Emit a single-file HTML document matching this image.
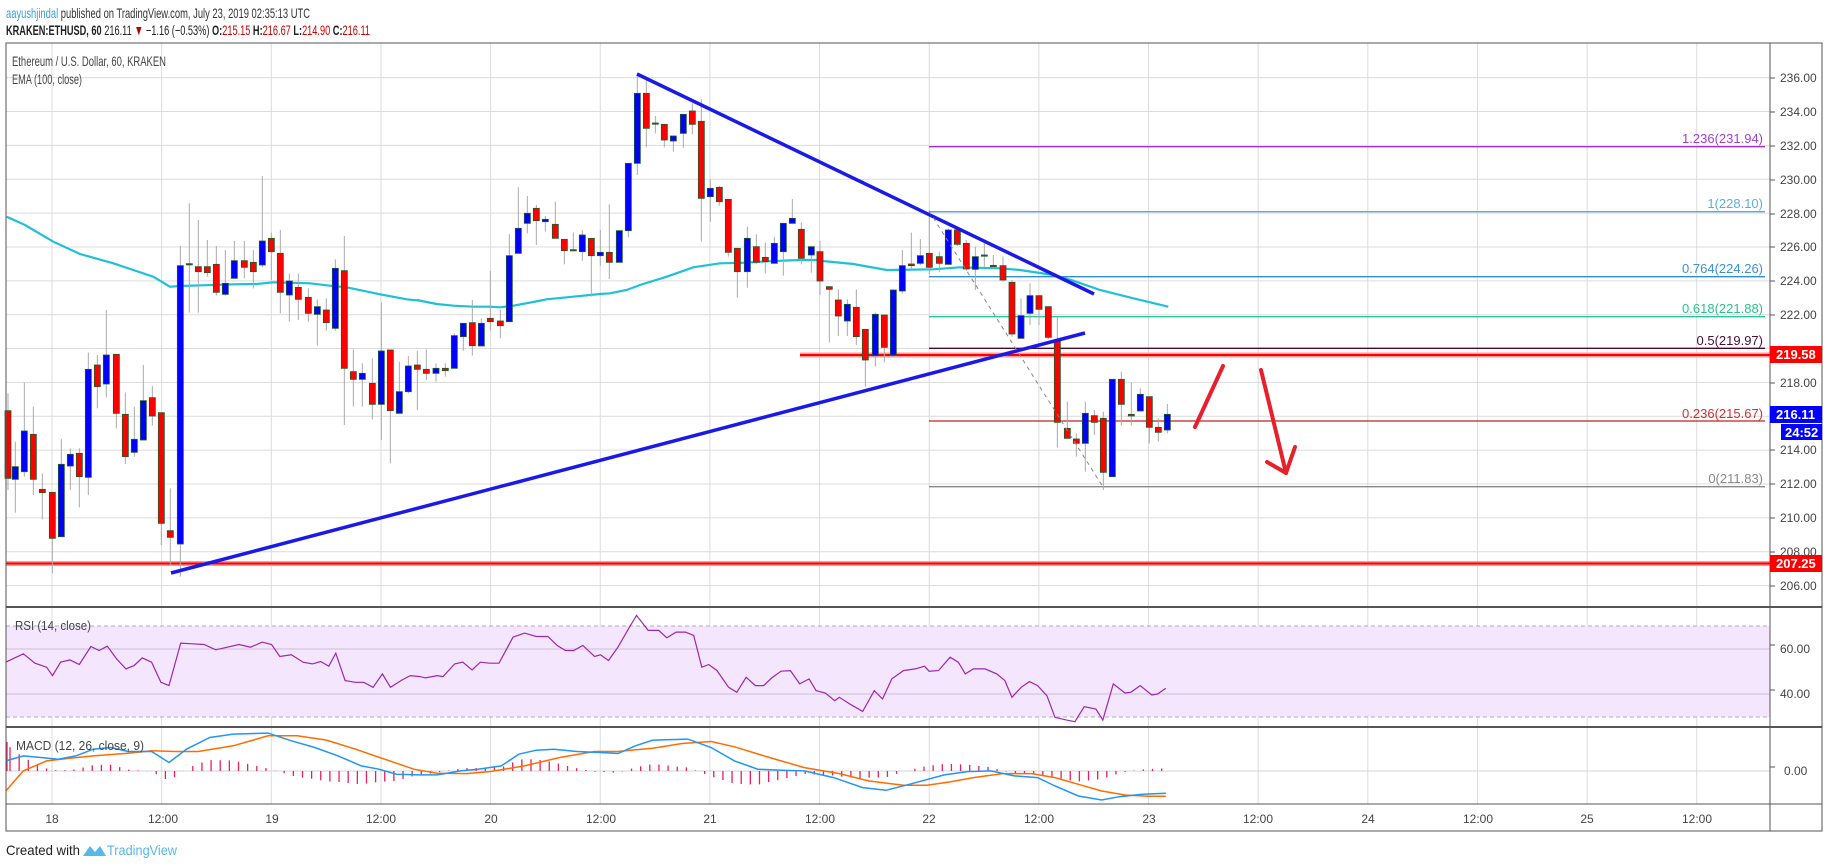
<!DOCTYPE html>
<html><head><meta charset="utf-8">
<style>
html,body{margin:0;padding:0;background:#fff;width:1828px;height:868px;overflow:hidden}
svg{display:block}
text{font-family:"Liberation Sans",sans-serif}
</style></head><body>
<svg id="s" width="1828" height="868" viewBox="0 0 1828 868" xmlns="http://www.w3.org/2000/svg">
<rect width="1828" height="868" fill="#fff"/>
<g id="grid"></g>
<rect x="6" y="626" width="1764" height="91" fill="#f3e6fd"/>
<line x1="6" y1="626" x2="1770" y2="626" stroke="#b9a6c4" stroke-dasharray="4,3"/>
<line x1="6" y1="717" x2="1770" y2="717" stroke="#b9a6c4" stroke-dasharray="4,3"/>
<line x1="6" y1="649" x2="1770" y2="649" stroke="#cbbdd6"/>
<line x1="6" y1="694" x2="1770" y2="694" stroke="#cbbdd6"/>
<line x1="6" y1="771" x2="1770" y2="771" stroke="#d4d4d4"/>
<g id="fib"></g>
<g id="plot"></g>
<!-- frame -->
<g stroke="#555" fill="none">
<rect x="6" y="43" width="1816" height="788"/>
<line x1="1770" y1="43" x2="1770" y2="831"/>
<line x1="6" y1="607" x2="1822" y2="607" stroke-width="2"/>
<line x1="6" y1="727" x2="1822" y2="727" stroke-width="2"/>
<line x1="6" y1="804" x2="1822" y2="804"/>
</g>
<g id="ticks"></g>
<!-- header -->
<text x="6" y="18" font-size="14" textLength="304" lengthAdjust="spacingAndGlyphs" fill="#333"><tspan fill="#3aa0d8">aayushjindal</tspan> published on TradingView.com, July 23, 2019 02:35:13 UTC</text>
<text x="6" y="35" font-size="14" textLength="364" lengthAdjust="spacingAndGlyphs" fill="#222"><tspan font-weight="bold">KRAKEN:ETHUSD, 60</tspan> 216.11 <tspan fill="#b00">▼</tspan> −1.16 (−0.53%) <tspan font-weight="bold">O:</tspan><tspan fill="#c00">215.15</tspan> <tspan font-weight="bold">H:</tspan><tspan fill="#c00">216.67</tspan> <tspan font-weight="bold">L:</tspan><tspan fill="#c00">214.90</tspan> <tspan font-weight="bold">C:</tspan><tspan fill="#c00">216.11</tspan></text>
<text x="12" y="66" font-size="14" textLength="154" lengthAdjust="spacingAndGlyphs" fill="#444">Ethereum / U.S. Dollar, 60, KRAKEN</text>
<text x="12" y="84" font-size="14" textLength="70" lengthAdjust="spacingAndGlyphs" fill="#444">EMA (100, close)</text>
<text x="15" y="630" font-size="13" textLength="76" lengthAdjust="spacingAndGlyphs" fill="#444">RSI (14, close)</text>
<text x="16" y="750" font-size="13" textLength="128" lengthAdjust="spacingAndGlyphs" fill="#444">MACD (12, 26, close, 9)</text>
<text x="6" y="855" font-size="14" textLength="74" lengthAdjust="spacingAndGlyphs" fill="#222">Created with</text>
<path d="M83 856 L90 846 L95 852 L100 846 L106 856 Z" fill="#56b8e6"/>
<text x="107" y="855" font-size="14" textLength="70" lengthAdjust="spacingAndGlyphs" fill="#56b8e6">TradingView</text>
<!-- fib labels -->
<g font-size="13" text-anchor="end">
<text x="1763" y="143" fill="#a040d0">1.236(231.94)</text>
<text x="1763" y="208" fill="#5aaee0">1(228.10)</text>
<text x="1763" y="273" fill="#3a92d0">0.764(224.26)</text>
<text x="1763" y="313" fill="#2bc08e">0.618(221.88)</text>
<text x="1763" y="345" fill="#4a1030">0.5(219.97)</text>
<text x="1763" y="418" fill="#d03030">0.236(215.67)</text>
<text x="1763" y="483" fill="#888">0(211.83)</text>
</g>
<g font-size="12" fill="#444">
<text x="1780" y="82">236.00</text><text x="1780" y="116">234.00</text><text x="1780" y="150">232.00</text>
<text x="1780" y="184">230.00</text><text x="1780" y="218">228.00</text><text x="1780" y="251">226.00</text>
<text x="1780" y="285">224.00</text><text x="1780" y="319">222.00</text><text x="1780" y="387">218.00</text>
<text x="1780" y="454">214.00</text><text x="1780" y="488">212.00</text><text x="1780" y="522">210.00</text>
<text x="1780" y="556">208.00</text><text x="1780" y="590">206.00</text>
<text x="1780" y="653">60.00</text><text x="1780" y="698">40.00</text><text x="1784" y="775">0.00</text>
</g>
<rect x="1770" y="346" width="52" height="17" fill="#f00"/>
<text x="1776" y="359" font-size="13" font-weight="bold" fill="#fff">219.58</text>
<rect x="1770" y="406" width="52" height="17" fill="#00f"/>
<text x="1776" y="419" font-size="13" font-weight="bold" fill="#fff">216.11</text>
<rect x="1781" y="424" width="41" height="16" fill="#00f"/>
<text x="1785" y="437" font-size="13" font-weight="bold" fill="#fff">24:52</text>
<rect x="1770" y="555" width="52" height="17" fill="#f00"/>
<text x="1776" y="568" font-size="13" font-weight="bold" fill="#fff">207.25</text>
<g font-size="12" fill="#444" text-anchor="middle">
<text x="52" y="823">18</text><text x="163" y="823">12:00</text><text x="272" y="823">19</text>
<text x="381" y="823">12:00</text><text x="491" y="823">20</text><text x="601" y="823">12:00</text>
<text x="710" y="823">21</text><text x="820" y="823">12:00</text><text x="929" y="823">22</text>
<text x="1039" y="823">12:00</text><text x="1149" y="823">23</text><text x="1258" y="823">12:00</text>
<text x="1368" y="823">24</text><text x="1478" y="823">12:00</text><text x="1587" y="823">25</text>
<text x="1697" y="823">12:00</text>
</g>
</svg>
<script>
var NS="http://www.w3.org/2000/svg";
function el(p,t,a){var e=document.createElementNS(NS,t);for(var k in a)e.setAttribute(k,a[k]);document.getElementById(p).appendChild(e);return e;}
// grid
for(var i=0;i<16;i++){var x=52+109.65*i;if(x<1770){el('grid','line',{x1:x,y1:43,x2:x,y2:804,stroke:'#dcdcdc'});}}
for(var p=206;p<=236;p+=2){var y=484-(p-212)*16.93;el('grid','line',{x1:6,y1:y,x2:1770,y2:y,stroke:'#dcdcdc'});}
// fib lines
[[146.7,'#a032d0'],[211.7,'#5aa8dc'],[276.7,'#2f8fd0'],[316.7,'#26c69a'],[348.3,'#4a0a2a'],[421,'#c02020'],[486.7,'#888']].forEach(function(f){el('fib','line',{x1:929,y1:f[0],x2:1765,y2:f[0],stroke:f[1],'stroke-width':1.3});});
// horizontal red lines
el('plot','line',{x1:6,y1:563.5,x2:1770,y2:563.5,stroke:'#ff9a9a','stroke-width':5});
el('plot','line',{x1:6,y1:563.5,x2:1770,y2:563.5,stroke:'#f00','stroke-width':2});
el('plot','line',{x1:800,y1:355,x2:1770,y2:355,stroke:'#ff9a9a','stroke-width':5});
el('plot','line',{x1:800,y1:355,x2:1770,y2:355,stroke:'#f00','stroke-width':2});
// EMA
function pts(arr,x0,y0){return arr.map(function(a){return (x0+a[0]/3).toFixed(1)+','+(y0+a[1]/3).toFixed(1);}).join(' ');}
var e4=[[20,470],[75,495],[160,545],[240,582],[340,610],[460,650],[510,680],[540,678],[700,673],[770,672],[820,667],[930,670],[990,677],[1040,682],[1140,703],[1220,718],[1260,722]];
var e5=[[50,720],[110,732],[160,737],[220,740],[270,740],[300,742],[340,737],[400,726],[440,718],[520,710],[600,702],[630,700],[680,690],[720,675],[800,650],[880,622],[960,610],[1040,608],[1100,604],[1200,600],[1260,600]];
var e6=[[60,602],[160,612],[260,630],[400,628],[480,622],[600,625],[660,630],[760,645],[820,662],[900,690],[1000,715],[1105,740]];
el('plot','polyline',{points:pts(e4,0,60)+' '+pts(e5,400,60)+' '+pts(e6,800,60),fill:'none',stroke:'#1fc0d8','stroke-width':2.2});
// candles [xz, bodyTop, bodyBot, wickTop, wickBot, color]
var c4=[[24,1052,1255,1000,1290,'r'],[46,1220,1258,1145,1358,'b'],[73,1113,1235,968,1250,'b'],[100,1123,1258,1040,1305,'r'],[127,1288,1298,1240,1378,'r'],[157,1297,1435,1297,1540,'r'],[184,1213,1430,1137,1430,'b'],[211,1183,1218,1165,1290,'b'],[238,1180,1250,1165,1342,'r'],[265,928,1252,878,1305,'b'],[292,915,980,885,1045,'r'],[319,885,972,750,1012,'b'],[349,883,1060,883,1105,'r'],[376,1063,1190,998,1212,'r'],[403,1138,1177,1040,1190,'b'],[430,1022,1140,915,1140,'b'],[457,1013,1068,978,1097,'r'],[484,1058,1390,1058,1455,'r'],[511,1412,1432,1285,1515,'r'],[541,617,1452,558,1550,'b'],[568,611,614,430,758,'g'],[595,620,635,480,758,'r'],[622,620,638,540,650,'r'],[649,613,697,558,707,'r'],[676,670,703,570,707,'b'],[703,602,655,543,655,'b'],[733,602,622,543,655,'r'],[760,607,635,570,685,'r'],[787,543,615,348,622,'b'],[814,535,575,518,660,'r'],[841,580,697,510,760,'r'],[868,663,705,640,785,'b'],[895,682,718,640,780,'r'],[925,712,760,685,785,'r'],[952,740,763,718,857,'b'],[979,750,788,715,812,'r'],[1006,625,805,598,812,'b'],[1033,632,925,528,1095,'r'],[1060,935,958,868,1040,'r'],[1087,940,958,910,1040,'b'],[1117,970,1033,895,1078,'r'],[1144,873,1033,727,1140,'b'],[1171,870,1052,870,1210,'r'],[1198,995,1060,905,1060,'b'],[1225,918,995,888,1000,'b']];
var c5=[[52,915,928,873,1050,'r'],[79,928,940,868,960,'r'],[108,925,940,910,965,'b'],[136,925,932,910,950,'r'],[163,827,925,820,925,'b'],[190,790,830,790,872,'b'],[217,788,857,720,887,'r'],[244,790,858,775,858,'b'],[271,775,785,633,812,'r'],[301,783,797,750,835,'r'],[328,587,785,522,785,'b'],[355,505,580,382,580,'b'],[382,460,490,408,520,'b'],[409,445,482,435,555,'r'],[436,478,485,468,515,'b'],[466,493,535,425,535,'r'],[493,538,572,538,613,'r'],[520,569,572,518,572,'g'],[547,525,575,510,602,'b'],[574,535,587,535,710,'r'],[601,577,587,510,617,'b'],[628,577,607,433,657,'r'],[658,512,607,512,607,'b'],[685,310,512,310,532,'b'],[712,100,310,40,345,'b'],[739,100,205,60,262,'r'],[766,189,192,168,220,'g'],[793,193,240,193,262,'r'],[820,228,243,228,275,'b'],[850,163,220,163,263,'b'],[877,153,193,130,223,'r'],[904,184,415,118,545,'r'],[931,385,410,358,485,'b'],[958,382,425,378,437,'r'],[985,418,577,418,590,'r'],[1012,565,635,565,713,'r'],[1042,535,635,500,683,'b'],[1069,560,607,523,613,'r'],[1096,592,605,548,640,'r'],[1123,550,610,530,610,'b'],[1150,490,575,490,647,'b'],[1177,475,490,417,490,'b'],[1204,508,595,487,613,'r'],[1234,560,585,560,638,'b']];
var c6=[[60,575,663,543,705,'r'],[88,680,688,680,848,'r'],[115,720,768,688,828,'r'],[142,733,783,718,828,'b'],[169,742,830,688,855,'r'],[196,808,900,808,980,'r'],[226,763,887,758,920,'b'],[253,765,862,765,907,'r'],[280,690,885,690,885,'b'],[307,617,693,570,700,'b'],[334,612,617,518,625,'r'],[361,587,610,537,615,'b'],[388,580,622,450,643,'r'],[418,590,610,575,637,'r'],[445,510,613,505,615,'b'],[472,510,553,505,558,'r'],[499,550,627,540,632,'r'],[526,590,628,560,690,'b'],[553,585,588,550,620,'r'],[580,616,620,585,625,'r'],[609,617,660,590,665,'r'],[636,667,822,660,830,'r'],[663,767,835,715,835,'b'],[690,707,760,670,795,'b'],[717,707,748,707,795,'r'],[745,740,832,740,838,'r'],[772,840,1087,770,1162,'r'],[802,1105,1135,1025,1135,'r'],[829,1137,1150,1120,1190,'r'],[856,1060,1150,1025,1235,'b'],[883,1067,1087,1050,1125,'r'],[910,1075,1237,1055,1290,'r'],[937,958,1250,958,1250,'b'],[964,958,1033,935,1097,'r'],[994,1063,1068,968,1097,'r'],[1021,1003,1053,985,1053,'b'],[1048,1010,1102,1010,1150,'r'],[1075,1102,1117,1075,1145,'r'],[1102,1063,1110,1032,1120,'b']];
function draw(arr,x0){arr.forEach(function(c){var x=x0+c[0]/3,y=function(v){return 60+v/3;};
el('plot','line',{x1:x,y1:y(c[3]),x2:x,y2:y(c[4]),stroke:'#aaa','stroke-width':1});
var col=c[5]=='b'?'#0000ff':(c[5]=='r'?'#ff0000':'#2e5e3e');
var h=Math.max(1.2,y(c[2])-y(c[1]));
el('plot','rect',{x:x-3,y:y(c[1]),width:6,height:h,fill:col,stroke:'#1e5a2a','stroke-width':0.8});});}
draw(c4,0);draw(c5,400);draw(c6,800);
// trendlines
el('plot','line',{x1:171,y1:573,x2:1085,y2:333,stroke:'#1a1ae8','stroke-width':3.5});
el('plot','line',{x1:637,y1:74,x2:1094,y2:294,stroke:'#1a1ae8','stroke-width':3.5});
el('plot','line',{x1:929,y1:211,x2:1103,y2:487,stroke:'#888','stroke-width':1,'stroke-dasharray':'4,4'});
// arrows
el('plot','line',{x1:1195,y1:427,x2:1223,y2:366,stroke:'#e8202a','stroke-width':4,'stroke-linecap':'round'});
el('plot','polyline',{points:'1261,370 1286,473',fill:'none',stroke:'#e8202a','stroke-width':4,'stroke-linecap':'round'});
el('plot','polyline',{points:'1267,462 1286,473 1295,447',fill:'none',stroke:'#e8202a','stroke-width':4,'stroke-linecap':'round','stroke-linejoin':'round'});
// RSI
var rsi=[[5,485],[20,460],[30,488],[40,500],[45,525],[52,485],[60,478],[68,492],[78,438],[85,450],[92,437],[100,475],[108,505],[115,495],[122,472],[130,485],[138,545],[145,555],[155,428],[165,430],[175,432],[185,448],[195,440],[205,432],[215,440],[225,425],[233,432],[240,468],[250,463],[260,485],[268,490],[275,483],[282,497],[288,458],[296,540],[305,545],[312,545],[320,560],[328,520],[335,560],[345,538],[352,525],[360,528],[365,532],[375,525],[380,528],[390,490],[397,485],[405,508],[412,485],[420,488],[428,488],[440,410],[450,398],[460,408],[470,408],[478,435],[485,450],[492,450],[500,435],[510,468],[515,463],[522,480],[530,440],[540,380],[546,345],[556,390],[565,390],[572,412],[580,395],[588,395],[595,405],[602,500],[608,492],[615,510],[625,560],[632,575],[640,530],[648,555],[655,555],[662,532],[670,512],[678,510],[686,550],[694,535],[700,570],[708,577],[716,600],[720,590],[730,612],[740,632],[750,570],[757,595],[765,535],[775,510],[785,505],[793,497],[797,512],[805,510],[815,470],[822,485],[828,520],[835,505],[845,505],[855,520],[862,540],[868,590],[876,560],[883,543],[890,555],[898,585],[905,650],[915,658],[922,663],[930,618],[940,625],[946,658],[955,550],[965,577],[970,575],[978,555],[988,583],[993,580],[1000,563]];
function zp(a){return a.map(function(q){return (q[0]*1.1658).toFixed(1)+','+(500+q[1]/2.99).toFixed(1);}).join(' ');}
el('plot','polyline',{points:zp(rsi),fill:'none',stroke:'#9c27b0','stroke-width':1.2});
// MACD
var mb=[[5,780],[20,765],[35,770],[50,775],[65,765],[80,745],[95,740],[110,752],[130,752],[145,785],[160,745],[180,710],[200,700],[230,697],[250,720],[270,740],[290,765],[310,795],[325,805],[340,820],[360,822],[375,822],[395,810],[410,805],[430,795],[445,760],[460,748],[475,745],[495,752],[515,755],[530,758],[545,735],[560,718],[590,715],[610,740],[630,780],[650,805],[670,808],[690,810],[715,830],[740,860],[760,868],[780,850],[810,822],[830,812],[850,810],[870,825],[890,830],[905,855],[925,885],[945,897],[960,887],[980,880],[1000,877]];
var mo=[[5,870],[20,810],[40,780],[60,772],[80,765],[110,757],[130,750],[150,752],[170,752],[200,735],[230,705],[255,705],[280,718],[305,745],[330,775],[355,805],[375,817],[400,818],[420,812],[450,795],[480,770],[510,752],[530,752],[560,742],[585,728],[610,722],[630,738],[660,770],[690,800],[720,818],[745,840],[775,853],[795,853],[815,843],[835,830],[860,818],[885,818],[905,830],[925,850],[945,870],[965,882],[985,886],[1000,886]];
function interp(a,x){for(var i=0;i<a.length-1;i++){if(x>=a[i][0]&&x<=a[i+1][0]){var t=(x-a[i][0])/(a[i+1][0]-a[i][0]);return a[i][1]+t*(a[i+1][1]-a[i][1]);}}return a[a.length-1][1];}
for(var xa=10;xa<=1168;xa+=9.14){var xi=xa/1.1658;var d=(interp(mo,xi)-interp(mb,xi))/2.99;var h=d*0.9;
el('plot','line',{x1:xa,y1:771,x2:xa,y2:771-h,stroke:'#e91e63','stroke-width':1.3});}
el('plot','line',{x1:7,y1:771,x2:7,y2:742,stroke:'#e91e63','stroke-width':1.3});
el('plot','polyline',{points:zp(mo),fill:'none',stroke:'#ff6d00','stroke-width':1.5});
el('plot','polyline',{points:zp(mb),fill:'none',stroke:'#2196f3','stroke-width':1.5});
// axis ticks
[82,116,150,184,218,251,285,319,387,454,488,522,556,590,649,694,771].forEach(function(y){el('ticks','line',{x1:1770,y1:y-4,x2:1775,y2:y-4,stroke:'#555'});});
</script>
</body></html>
